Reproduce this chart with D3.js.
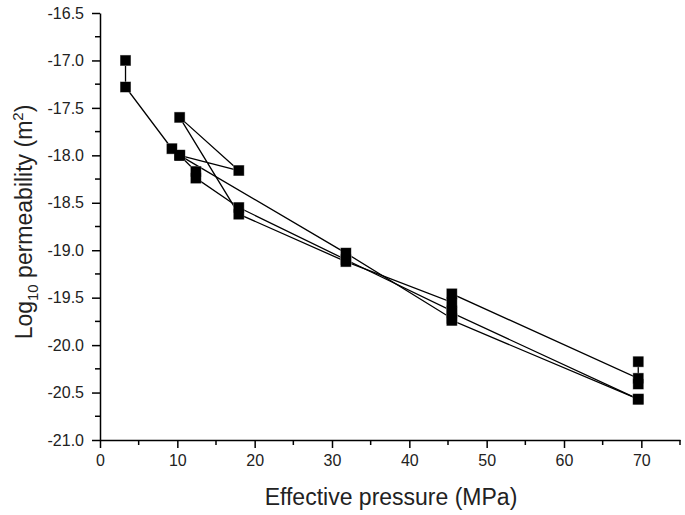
<!DOCTYPE html>
<html>
<head>
  <script src="https://d3js.org/d3.v7.min.js"></script>
  <style>
    body { margin: 0; padding: 0; background: white; }
    svg { display: block; font-family: 'Liberation Sans', Arial, sans-serif; }
  </style>
</head>
<body>
  <svg id="chart" width="685" height="515"></svg>
  <script>
    // each run is a sequence of [effective pressure (MPa), log10 permeability]
    const run1 = [[3.3, -17.0], [3.3, -17.28], [9.3, -17.93], [10.3, -18.0], [12.4, -18.17], [12.4, -18.24],
                  [17.95, -18.55], [31.8, -19.1], [45.5, -19.64], [45.5, -19.66], [69.6, -20.57]];
    const run2 = [[10.3, -18.0], [17.95, -18.16], [10.3, -17.6], [17.95, -18.62], [31.8, -19.12],
                  [45.5, -19.55], [45.5, -19.46], [69.6, -20.35], [69.6, -20.41], [69.6, -20.175]];
    const run3 = [[10.3, -18.0], [31.8, -19.03], [45.5, -19.72], [45.5, -19.74], [69.6, -20.57]];
    const runs = [run1, run2, run3];

    const xTicks = [0, 10, 20, 30, 40, 50, 60, 70];
    const yTicks = [-21.0, -20.5, -20.0, -19.5, -19.0, -18.5, -18.0, -17.5, -17.0, -16.5];

    const svg = d3.select("#chart");
    const x = d3.scaleLinear().domain([0, 75]).range([100, 680]);
    const y = d3.scaleLinear().domain([-21, -16.5]).range([440, 13]);

    // axes
    const xAxis = svg.append("g").attr("transform", "translate(0,440)")
      .call(d3.axisBottom(x).tickValues(xTicks).tickSize(8).tickSizeOuter(0).tickPadding(7).tickFormat(d3.format("d")));
    xAxis.append("g").selectAll("line").data(d3.range(5, 80, 10)).join("line")
      .attr("x1", d => x(d)).attr("x2", d => x(d)).attr("y1", 0).attr("y2", 5)
      .attr("stroke", "#000").attr("stroke-width", 1.5);

    const yAxis = svg.append("g").attr("transform", "translate(100,0)")
      .call(d3.axisLeft(y).tickValues(yTicks).tickSize(8).tickSizeOuter(0).tickPadding(8).tickFormat(d3.format(".1f")));
    yAxis.append("g").selectAll("line").data(d3.range(-20.75, -16.5, 0.5)).join("line")
      .attr("y1", d => y(d)).attr("y2", d => y(d)).attr("x1", 0).attr("x2", -5)
      .attr("stroke", "#000").attr("stroke-width", 1.5);

    svg.selectAll(".domain, .tick line").attr("stroke", "#000").attr("stroke-width", 1.5);
    svg.selectAll(".tick text").attr("font-size", 16).attr("fill", "#222")
      .style("font-family", "'Liberation Sans', Arial, sans-serif")
      .text(function () { return d3.select(this).text().replace("−", "-"); });

    // axis titles
    svg.append("text").attr("x", 391).attr("y", 505).attr("text-anchor", "middle")
      .attr("font-size", 23).attr("fill", "#222").text("Effective pressure (MPa)");

    const yt = svg.append("text").attr("transform", "translate(32,222) rotate(-90)")
      .attr("text-anchor", "middle").attr("font-size", 23).attr("fill", "#222");
    yt.append("tspan").text("Log");
    yt.append("tspan").attr("font-size", 15).attr("dy", 6).text("10");
    yt.append("tspan").attr("dy", -6).text(" permeability (m");
    yt.append("tspan").attr("font-size", 15).attr("dy", -9).text("2");
    yt.append("tspan").attr("dy", 9).text(")");

    // lines
    const line = d3.line().x(d => x(d[0])).y(d => y(d[1]));
    svg.append("g").selectAll("path").data(runs).join("path")
      .attr("d", line).attr("fill", "none").attr("stroke", "#000").attr("stroke-width", 1.3);

    // markers: grey outline layer first, then black fill on top so stacked points merge
    const pts = runs.flat();
    svg.append("g").selectAll("rect").data(pts).join("rect")
      .attr("x", d => x(d[0]) - 5).attr("y", d => y(d[1]) - 5)
      .attr("width", 10).attr("height", 10)
      .attr("fill", "#000").attr("stroke", "#888").attr("stroke-width", 1);
    svg.append("g").selectAll("rect").data(pts).join("rect")
      .attr("x", d => x(d[0]) - 5).attr("y", d => y(d[1]) - 5)
      .attr("width", 10).attr("height", 10)
      .attr("fill", "#000");
  </script>
</body>
</html>
